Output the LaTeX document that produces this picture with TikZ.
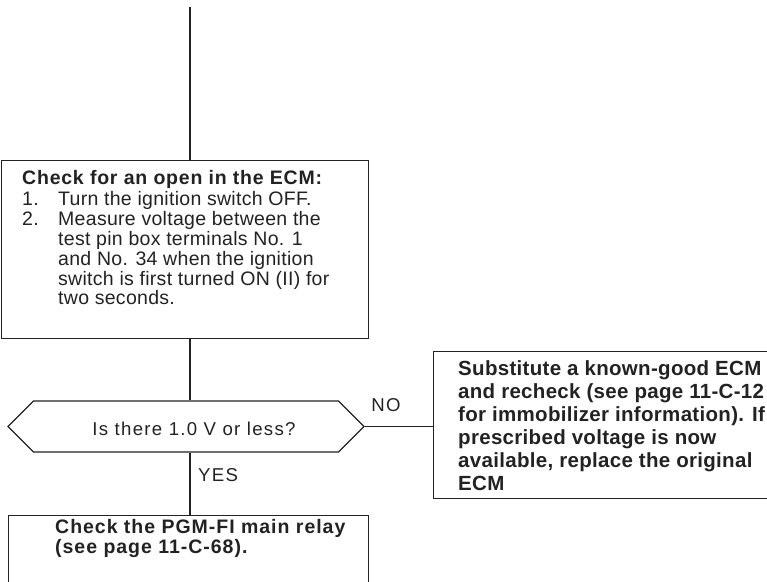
\documentclass[tikz,border=0pt]{standalone}
\usepackage{fontspec}
\setmainfont{Liberation Sans}
\usetikzlibrary{shapes.symbols}
\definecolor{ink}{HTML}{222222}

\begin{document}
\begin{tikzpicture}[x=1pt, y=-1pt,
  line/.style={draw=ink, line width=1.3pt},
  box/.style={line, rectangle, inner sep=0pt, anchor=north west},
  txt/.style={inner sep=0pt, text=ink,
    font=\fontsize{18.6}{19}\selectfont\addfontfeature{LetterSpace=7}},
  steptxt/.style={inner sep=0pt, text=ink, anchor=base west,
    font=\fontsize{19.5}{19}\selectfont\addfontfeature{LetterSpace=1.5}},
  boldtxt/.style n args={3}{inner sep=0pt, text=ink, anchor=base west,
    font=\bfseries\fontsize{#1}{#2}\selectfont\addfontfeature{LetterSpace=#3}},
]
\useasboundingbox (0,0) rectangle (767,581);
\clip (0,0) rectangle (767,581);

% step boxes
\node[box, minimum width=367pt, minimum height=178pt] (check) at (1,160) {};
\node[line, signal, signal to=east and west, signal pointer angle=90,
      minimum width=356pt, minimum height=51pt, inner sep=0pt] (hex) at (186,426.5) {};
\node[box, minimum width=360pt, minimum height=147pt] (subst) at (433,351) {};
\node[box, minimum width=360pt, minimum height=100pt] (relay) at (8,515) {};

% connectors
\coordinate (top) at (190,7);
\draw[line] (top) -- (top |- check.north);
\draw[line] (check.south -| top) -- (hex.north -| top);
\draw[line] (hex.south -| top) -- (relay.north -| top);
\draw[line] (hex.east) -- (subst.west |- hex.east);

% texts
\node[steptxt] (checktext) at (22,184.5) {%
  \begin{tabular}[t]{@{}p{36pt}@{}l@{}}
  \multicolumn{2}{@{}l@{}}{\bfseries\addfontfeature{LetterSpace=4}Check for an open in the ECM:}\\[1.5pt]
  1. & Turn the ignition switch OFF.\\
  2. & Measure voltage between the\\
     & test pin box terminals No. 1\\
     & and No. 34 when the ignition\\
     & switch is first turned ON (II) for\\
     & two seconds.
  \end{tabular}};
\node[txt] (question) at (194,429) {Is there 1.0 V or less?};
\node[txt] (no) at (386,405) {NO};
\node[txt] (yes) at (218,475) {YES};
\node[boldtxt={20.5}{23}{1.5}] (substtext) at (458,375) {%
  \begin{tabular}[t]{@{}l@{}}
  Substitute a known-good ECM\\
  and recheck (see page 11-C-12\\
  for immobilizer information). If\\
  prescribed voltage is now\\
  available, replace the original\\
  ECM
  \end{tabular}};
\node[boldtxt={19.5}{18.5}{5}] (relaytext) at (55,533.5) {%
  \begin{tabular}[t]{@{}l@{}}
  Check the PGM-FI main relay\\
  (see page 11-C-68).
  \end{tabular}};
\end{tikzpicture}
\end{document}
